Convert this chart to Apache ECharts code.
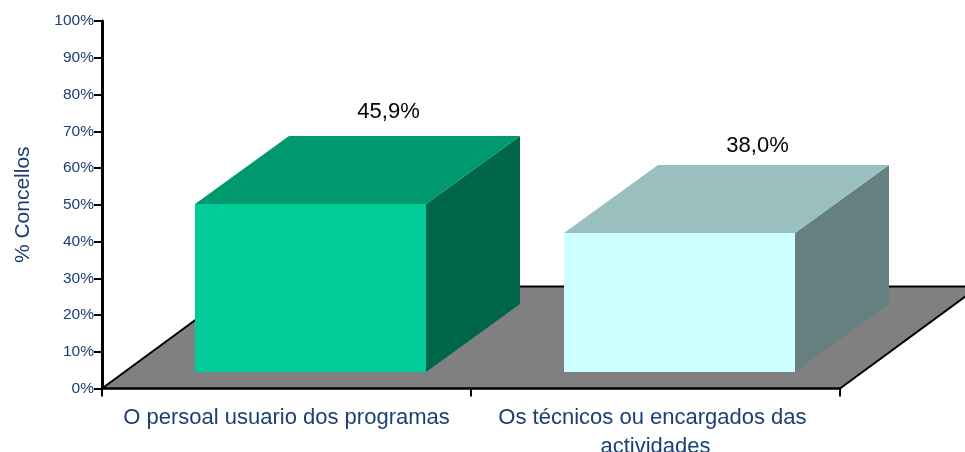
<!DOCTYPE html>
<html><head><meta charset="utf-8">
<style>html,body{margin:0;padding:0;background:#fff}#c{width:965px;height:452px}</style>
<script src="https://cdn.jsdelivr.net/npm/echarts@6/dist/echarts.min.js"></script>
</head><body><div id="c"></div>
<script>
const categories = ["O persoal usuario dos programas", "Os técnicos ou encargados das actividades"];
const values = [45.9, 38.0];
const valueLabels = ["45,9%", "38,0%"];
const frontColors = ["#00CC99", "#CCFFFF"];
const topColors = ["#00996F", "#99BFBF"];
const sideColors = ["#00664A", "#668080"];
const yTickStep = 10;

const DX = 139, DY = 102;      // full floor depth
const NEAR = 0.157, FAR = 0.833; // bar front/back within the depth
const WIDTH_RATIO = 0.626;
const BAR_SHIFT = 2.5;
const LABEL_LIFT = [92, 87];
const NAVY = "#1C3F73";

const chart = echarts.init(document.getElementById('c'), null, {renderer:'canvas'});
chart.setOption({
  animation:false,
  grid:{left:102, right:125, top:21, bottom:63.5, containLabel:false, outerBoundsMode:'none'},
  xAxis:{type:'category', data:categories, boundaryGap:true, z:6,
    axisLine:{show:true, onZero:false, lineStyle:{color:'#000', width:2.5}},
    axisTick:{show:true, alignWithLabel:false, length:8, lineStyle:{color:'#000', width:2}},
    axisLabel:{color:NAVY, fontFamily:'Liberation Sans', fontSize:22, margin:15, width:345, overflow:'break', lineHeight:29, interval:0}},
  yAxis:{type:'value', min:0, max:100, interval:yTickStep, z:6,
    name:'% Concellos', nameLocation:'middle', nameGap:68, nameRotate:90, nameMoveOverlap:false,
    nameTextStyle:{color:NAVY, fontFamily:'Liberation Sans', fontSize:21},
    splitLine:{show:false},
    axisLine:{show:true, lineStyle:{color:'#000', width:3}},
    axisTick:{show:true, length:8, lineStyle:{color:'#000', width:2}},
    axisLabel:{color:NAVY, fontFamily:'Liberation Sans', fontSize:15.5, margin:8, formatter:'{value}%'}},
  series:[
    {type:'custom', z:1, silent:true, clip:false, coordinateSystem:'cartesian2d', data:[[0,0]],
     renderItem(p, api){
       const band = api.size([1,0])[0];
       const a = api.coord([0,0]); const x0 = a[0]-band/2, x1 = x0+2*band, y = a[1];
       const pts = [[x0,y],[x1,y],[x1+DX,y-DY],[x0+DX,y-DY]];
       return {type:'group', children:[
         {type:'polygon', shape:{points:pts}, style:{fill:'#808080', stroke:'none'}},
         {type:'polyline', shape:{points:[pts[0],pts[3],pts[2],pts[1]]}, style:{fill:'none', stroke:'#000', lineWidth:2}}
       ]};
     }},
    {type:'custom', z:2, silent:true, clip:false, coordinateSystem:'cartesian2d',
     data:values.map((v,i)=>[i,v]),
     renderItem(p, api){
       const i = api.value(0), v = api.value(1);
       const band = api.size([1,0])[0];
       const c = api.coord([i,v]), b = api.coord([i,0]);
       const w = Math.round(band*WIDTH_RATIO);
       const ox = NEAR*DX, oy = NEAR*DY, ddx=Math.round((FAR-NEAR)*DX), ddy=68;
       const l = Math.round(c[0]-w/2+ox+BAR_SHIFT), r = l+w, t = Math.round(c[1]-oy), bt = Math.round(b[1]-oy);
       return {type:'group', children:[
         {type:'polygon', shape:{points:[[r,bt],[r+ddx,bt-ddy],[r+ddx,t-ddy],[r,t]]}, style:{fill:sideColors[i]}},
         {type:'polygon', shape:{points:[[l,t],[r,t],[r+ddx,t-ddy],[l+ddx,t-ddy]]}, style:{fill:topColors[i]}},
         {type:'rect', shape:{x:l, y:t, width:w, height:bt-t}, style:{fill:frontColors[i]}},
         {type:'text', x:l+w/2+78, y:t-LABEL_LIFT[i], style:{text:valueLabels[i], fill:'#000', font:'22px "Liberation Sans"', textAlign:'center', textVerticalAlign:'middle'}}
       ]};
     }}
  ]
});
</script></body></html>
